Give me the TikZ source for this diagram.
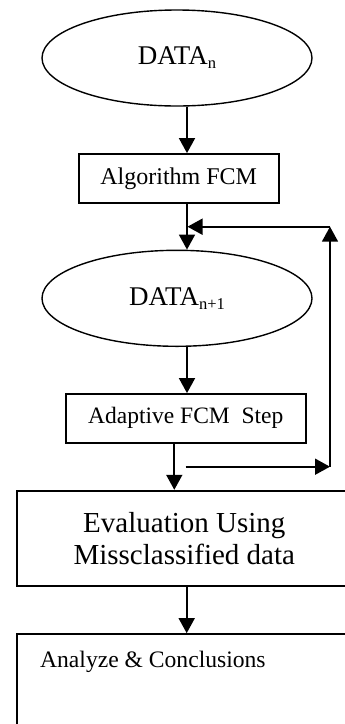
\documentclass[tikz,border=0pt]{standalone}
\usepackage{fontspec}
\setmainfont{Liberation Serif}
\usetikzlibrary{shapes.geometric,arrows.meta}

\newcommand{\subtxt}[1]{\raisebox{-4pt}{\fontsize{16.5}{16.5}\selectfont #1}}

\begin{document}
\begin{tikzpicture}[x=1pt,y=-1pt,
  line width=1.7pt,
  oval/.style={draw,ellipse,minimum width=270pt,minimum height=96pt,inner sep=0pt,line width=1.4pt},
  stepbox/.style={draw,rectangle,inner sep=0pt},
  arr/.style={-{Triangle[length=15pt,width=16pt]}}]
  \useasboundingbox (0,0) rectangle (345,724);
  \clip (0,0) rectangle (345,724);

  % flow elements
  \node[oval,font=\fontsize{27}{30}\selectfont] (dn) at (177,58) {DATA\subtxt{n}};
  \node[stepbox,minimum width=200pt,minimum height=48.7pt,font=\fontsize{24}{27}\selectfont]
    (alg) at (178.7,178.3) {Algorithm FCM};
  \node[oval,font=\fontsize{27}{30}\selectfont] (dn1) at (177,298.3) {DATA\subtxt{n+1}};
  \node[stepbox,minimum width=240.3pt,minimum height=48.7pt,font=\fontsize{23.5}{27}\selectfont]
    (ada) at (185.8,418.3) {Adaptive FCM\ \ Step};
  \node[stepbox,minimum width=334pt,minimum height=95.3pt,align=center,font=\fontsize{29}{32}\selectfont]
    (eva) at (184.3,538.3) {Evaluation Using\\ Missclassified data};
  \node[stepbox,minimum width=334pt,minimum height=140pt] (ana) at (184.3,704) {};
  \node[anchor=west,inner sep=0pt,font=\fontsize{23.6}{27}\selectfont] (anatxt) at (39.3,661.7)
    {Analyze \& Conclusions};

  % main downward connectors
  \draw[arr] (dn.south -| 187,0) -- (alg.north -| 187,0);
  \draw[arr] (alg.south -| 187,0) -- (dn1.north -| 187,0);
  \draw[arr] (dn1.south -| 187,0) -- (ada.north -| 187,0);
  \draw[arr] (ada.south -| 174.3,0) -- (eva.north -| 174.3,0);
  \draw[arr] (eva.south -| 186.7,0) -- (ana.north -| 186.7,0);

  % feedback loop
  \coordinate (fbA) at (185.7,466.7);
  \coordinate (fbB) at (330,466.7);
  \coordinate (fbC) at (330,226.7);
  \coordinate (fbD) at (187.5,226.7);
  \draw[arr] (fbA) -- (fbB);
  \draw[arr] (fbB) -- (fbC);
  \draw[arr] (fbC) -- (fbD);
\end{tikzpicture}
\end{document}
